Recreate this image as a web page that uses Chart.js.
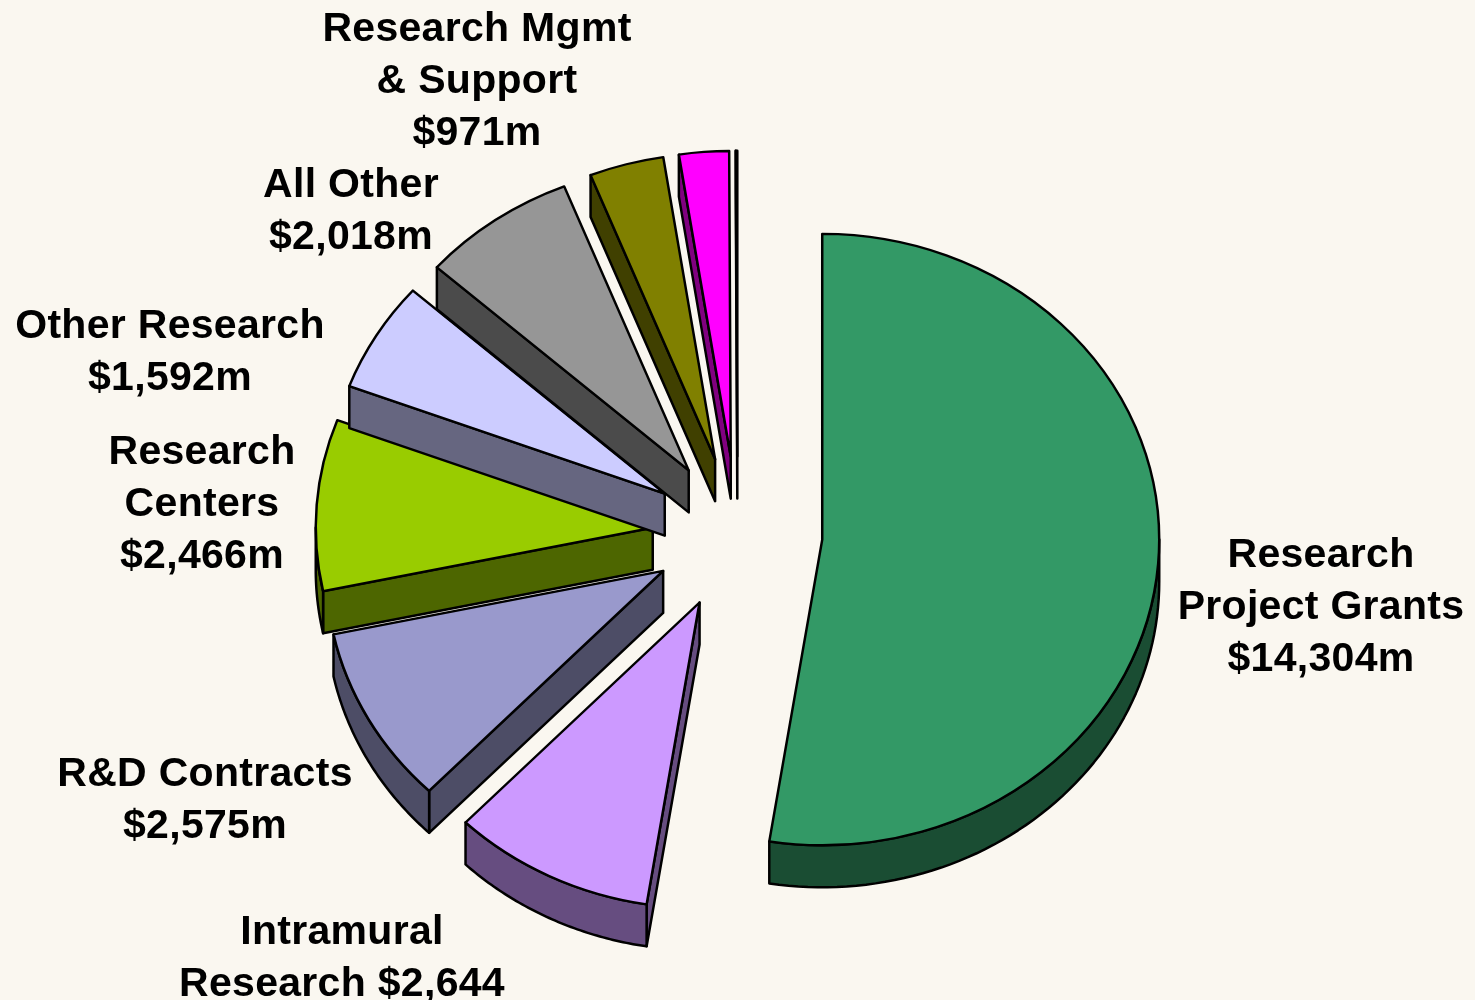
<!DOCTYPE html>
<html>
<head>
<meta charset="utf-8">
<title>Research budget</title>
<style>
  html, body { margin: 0; padding: 0; background: #FAF7F0; }
  canvas { display: block; }
</style>
<script src="https://cdn.jsdelivr.net/npm/chart.js@4/dist/chart.umd.min.js"></script>
</head>
<body>
<canvas id="chart" width="1475" height="1000"></canvas>
<script>
const categories = ['Research Project Grants', 'Intramural Research', 'R&D Contracts', 'Research Centers',
  'Other Research', 'All Other', 'Research Mgmt & Support', 'Magenta slice', 'Thin slice'];
const values = [14304, 2644, 2575, 2466, 1592, 2018, 971, 650, 20];
const topColors = ['#339966', '#CC99FF', '#9999CC', '#99CC00', '#CCCCFF', '#969696', '#808000', '#FF00FF', '#FAF7F0'];
const wallColors = ['#1A4D33', '#664D80', '#4D4D66', '#4D6600', '#666680', '#4B4B4B', '#404000', '#800080', '#7E7C79'];

const labelLines = [
  ['Research', 'Project Grants', '$14,304m'],
  ['Intramural', 'Research $2,644'],
  ['R&D Contracts', '$2,575m'],
  ['Research', 'Centers', '$2,466m'],
  ['Other Research', '$1,592m'],
  ['All Other', '$2,018m'],
  ['Research Mgmt', '& Support', '$971m']
];
// centre x and first baseline of each label
const labelAnchors = [[1321, 567], [342, 944], [205, 786], [202, 464], [170, 338], [351, 197], [477, 41]];

const TILT = 0.907;
const DEPTH = 42;
const EXPLODE = 85;
const RADIUS = 337;
const LINE = 2.5;

// walls first, then the top through the arc's own draw
function drawSlice(ctx, arc, wall) {
  const { x, y, startAngle, endAngle, outerRadius } = arc.getProps(['x', 'y', 'startAngle', 'endAngle', 'outerRadius'], true);
  const mid = (startAngle + endAngle) / 2;
  const moveX = Math.cos(mid) * EXPLODE;
  const moveY = Math.sin(mid) * EXPLODE;
  const apexX = x + moveX;
  const px = (a) => apexX + Math.cos(a) * outerRadius;
  const py = (a) => y + (moveY + Math.sin(a) * outerRadius) * TILT;
  const topApexY = y + moveY * TILT;

  ctx.save();
  ctx.fillStyle = wall;
  ctx.strokeStyle = '#000';
  ctx.lineWidth = LINE;
  ctx.lineJoin = 'round';

  // radial faces, skip the ones turned away from the viewer
  [[startAngle, -Math.cos(startAngle)], [endAngle, Math.cos(endAngle)]].forEach(([a, facing]) => {
    if (facing <= 0.001) return;
    ctx.beginPath();
    ctx.moveTo(apexX, topApexY);
    ctx.lineTo(px(a), py(a));
    ctx.lineTo(px(a), py(a) + DEPTH);
    ctx.lineTo(apexX, topApexY + DEPTH);
    ctx.closePath();
    ctx.fill();
    ctx.stroke();
  });

  // outer rim, only the part facing the viewer
  [[startAngle, endAngle], [startAngle - Math.PI * 2, endAngle - Math.PI * 2]].forEach(([a0, a1]) => {
    const s = Math.max(a0, 0);
    const e = Math.min(a1, Math.PI);
    if (e <= s) return;
    ctx.beginPath();
    for (let i = 0; i <= 60; i++) {
      const a = s + (e - s) * i / 60;
      ctx.lineTo(px(a), py(a));
    }
    for (let i = 60; i >= 0; i--) {
      const a = s + (e - s) * i / 60;
      ctx.lineTo(px(a), py(a) + DEPTH);
    }
    ctx.closePath();
    ctx.fill();
    ctx.stroke();
  });
  ctx.restore();

  ctx.save();
  ctx.translate(moveX, y + moveY * TILT);
  ctx.scale(1, TILT);
  ctx.translate(0, -y);
  arc.draw(ctx);
  ctx.restore();
}

const pie3d = {
  id: 'pie3d',
  beforeDatasetDraw(chart, args) {
    const ctx = chart.ctx;
    args.meta.data.forEach((arc, i) => drawSlice(ctx, arc, wallColors[i]));
    return false;
  },
  afterDraw(chart) {
    const ctx = chart.ctx;
    ctx.save();
    ctx.fillStyle = '#000';
    ctx.font = 'bold 41px "Liberation Sans", Arial, sans-serif';
    ctx.textAlign = 'center';
    ctx.letterSpacing = '0.3px';
    labelLines.forEach((lines, i) => {
      lines.forEach((line, j) => {
        ctx.fillText(line, labelAnchors[i][0], labelAnchors[i][1] + j * 52);
      });
    });
    ctx.restore();
  }
};

new Chart(document.getElementById('chart'), {
  type: 'pie',
  data: {
    labels: categories,
    datasets: [{
      data: values,
      backgroundColor: topColors,
      borderColor: '#000',
      borderWidth: LINE,
      borderJoinStyle: 'round',
      radius: RADIUS
    }]
  },
  options: {
    responsive: false,
    animation: false,
    layout: { padding: { top: 67 } },
    plugins: { legend: { display: false }, tooltip: { enabled: false } }
  },
  plugins: [pie3d]
});
</script>
</body>
</html>
